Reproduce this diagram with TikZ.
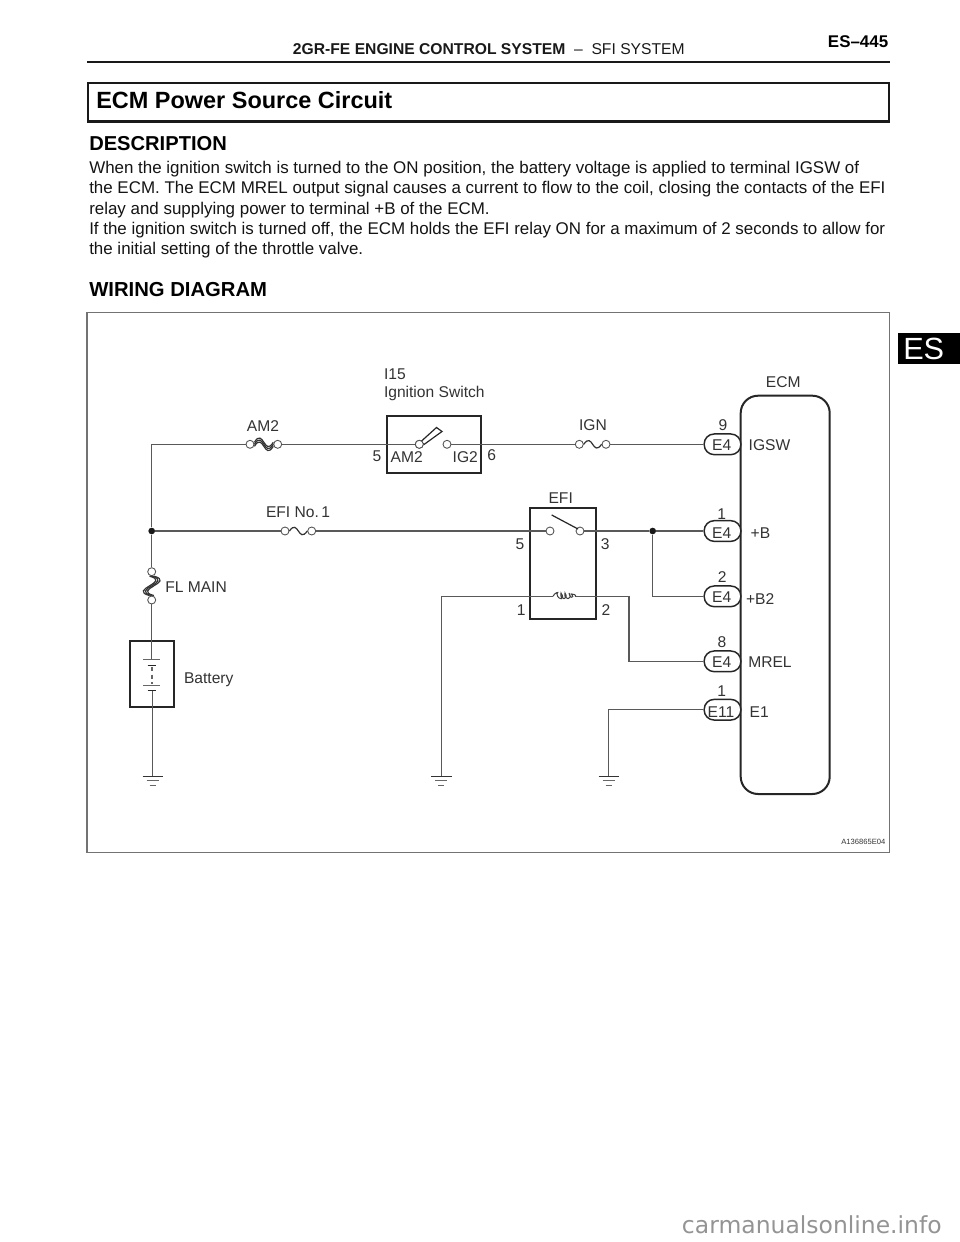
\documentclass[tikz,border=0pt]{standalone}
\usepackage{fontspec}
\setmainfont{Liberation Sans}
\newfontfamily\wmfont{DejaVu Sans}
\tikzset{
  lbl/.style={inner sep=0pt,outer sep=0pt,text=black!80,font=\fontsize{11.7pt}{14pt}\selectfont},
  lw/.style={lbl,anchor=base west},
  lc/.style={lbl,anchor=base},
  lr/.style={lbl,anchor=base east},
  para/.style={inner sep=0pt,anchor=base west,text=black!92,font=\fontsize{12.7pt}{14pt}\selectfont},
  wire/.style={draw=black!65,line width=0.85pt},
  heavy/.style={draw=black!85,line width=1.5pt},
  term/.style={circle,draw=black!68,fill=white,line width=0.65pt,inner sep=0pt,minimum size=6pt},
  dotn/.style={circle,fill=black!90,inner sep=0pt,minimum size=5pt},
  pill/.style={draw=black!85,fill=white,line width=1.1pt,rounded corners=7.5pt,minimum width=27.5pt,minimum height=15.5pt,inner sep=0pt},
  fusewave/.style={draw=black!80,line width=0.9pt},
  gnd/.style={draw=black!80,line width=1.2pt},
  gndthin/.style={draw=black!60,line width=0.7pt},
  gndsym/.pic={
    \draw[gnd] (-10.2,0) -- (10.2,0);
    \draw[gndthin] (-6,4.6) -- (6,4.6);
    \draw[gndthin] (-3,9.2) -- (3,9.2);
  },
}
\begin{document}
\begin{tikzpicture}[x=0.75pt,y=-0.75pt]
\useasboundingbox (0,0) rectangle (960,1242);
\fill[white] (0,0) rectangle (960,1242);

% page header
\draw[black!90,line width=1.6pt] (87,62) -- (889.7,62);
\node[inner sep=0pt,anchor=base west,text=black!90,font=\fontsize{11.75pt}{14pt}\selectfont] (hdr) at (292.7,54.3) {\textbf{2GR-FE ENGINE CONTROL SYSTEM}\ \ --\ \ SFI SYSTEM};
\node[inner sep=0pt,anchor=base east,text=black,font=\bfseries\fontsize{12.7pt}{14pt}\selectfont] (pg) at (888.5,47.3) {ES--445};
\draw[black!90,line width=1.9pt] (88,83) rectangle (889,121.7);
\node[inner sep=0pt,anchor=base west,text=black,font=\bfseries\fontsize{17.6pt}{20pt}\selectfont] (title) at (96,108.3) {ECM Power Source Circuit};
\node[inner sep=0pt,anchor=base west,text=black,font=\bfseries\fontsize{15.1pt}{18pt}\selectfont] (desc) at (89,150) {DESCRIPTION};
\node[para] (p1) at (89,173) {When the ignition switch is turned to the ON position, the battery voltage is applied to terminal IGSW of};
\node[para] (p2) at (89,193.6) {the ECM. The ECM MREL output signal causes a current to flow to the coil, closing the contacts of the EFI};
\node[para] (p3) at (89,214) {relay and supplying power to terminal +B of the ECM.};
\node[para] (p4) at (89,234.3) {If the ignition switch is turned off, the ECM holds the EFI relay ON for a maximum of 2 seconds to allow for};
\node[para] (p5) at (89,254.7) {the initial setting of the throttle valve.};
\node[inner sep=0pt,anchor=base west,text=black,font=\bfseries\fontsize{15.2pt}{18pt}\selectfont] (wd) at (89,296.7) {WIRING DIAGRAM};

% side tab
\fill[black] (897.7,333.3) rectangle (960,364);
\node[inner sep=0pt,anchor=base west,text=white,font=\fontsize{23pt}{26pt}\selectfont] (tab) at (903,359.3) {ES};

% diagram frame
\draw[black!55,line width=0.9pt] (87,312.5) rectangle (889.8,852.7);

% ECM
\draw[heavy,rounded corners=13pt] (740.7,395.7) rectangle (829.7,794);

% fuse and switch terminals
\node[term] (am2a) at (250,444.3) {};
\node[term] (am2b) at (277.7,444.3) {};
\node[term] (efa) at (285,531) {};
\node[term] (efb) at (311.7,531) {};
\node[term] (igna) at (579.3,444.3) {};
\node[term] (ignb) at (606,444.3) {};
\node[term] (fla) at (151.7,571.7) {};
\node[term] (flb) at (151.7,600) {};

% boxes
\node[draw=black!85,line width=1.5pt,minimum width=70.7pt,minimum height=42.7pt,inner sep=0pt] (ign) at (433.85,444.2) {};
\node[draw=black!85,line width=1.5pt,minimum width=49.3pt,minimum height=83.5pt,inner sep=0pt] (efi) at (563.15,563.65) {};
\node[draw=black!85,line width=1.5pt,minimum width=33.4pt,minimum height=49.3pt,inner sep=0pt] (bat) at (152,673.85) {};

% pills
\node[pill] (p9) at (722.5,444.3) {};
\node[pill] (pb) at (722.5,531) {};
\node[pill] (pb2) at (722.5,596.3) {};
\node[pill] (pm) at (722.5,661.3) {};
\node[pill] (pe) at (722.5,709.7) {};

% terminals in boxes
\node[term] (swa) at (419.3,444.3) {};
\node[term] (swb) at (447,444.3) {};
\node[term] (rla) at (550,531) {};
\node[term] (rlb) at (580,531) {};
\node[dotn] (j1) at (151.7,531) {};
\node[dotn] (j2) at (652.7,531) {};
\coordinate (tl) at (151.7,444.3);
\coordinate (cla) at (553,596.3);
\coordinate (clb) at (575,596.3);
\coordinate (g1) at (152.7,776.3);
\coordinate (g2) at (441.3,776.3);
\coordinate (g3) at (608.7,776.3);
\coordinate (batt) at (151.7,659.7);
\coordinate (batb) at (152.7,690.3);

% wires
\draw[wire] (am2a) -- (tl) -- (j1) -- (fla);
\draw[wire] (flb) -- (batt);
\draw[wire] (batb) -- (g1);
\draw[wire] (am2b) -- (swa);
\draw[wire] (swb) -- (igna);
\draw[wire] (ignb) -- (p9.west);
\draw[wire] (j1) -- (efa);
\draw[wire] (efb) -- (rla);
\draw[wire] (rlb) -- (j2) -- (pb.west);
\draw[wire] (j2) |- (pb2.west);
\draw[wire] (g2) |- (cla);
\draw[wire] (clb) -- (629,596.3) |- (pm.west);
\draw[wire] (g3) |- (pe.west);

% fuses
\draw[fusewave] (am2a.east) .. controls +(9,-15) and +(-9,15) .. (am2b.west);
\draw[fusewave] ([yshift=1.5pt]am2a.east) .. controls +(9,-15) and +(-9,15) .. ([yshift=1.5pt]am2b.west);
\draw[fusewave] ([yshift=-1.5pt]am2a.east) .. controls +(9,-15) and +(-9,15) .. ([yshift=-1.5pt]am2b.west);
\draw[fusewave] (efa.east) .. controls +(9,-13) and +(-9,13) .. (efb.west);
\draw[fusewave] (igna.east) .. controls +(9,-13) and +(-9,13) .. (ignb.west);
\draw[fusewave] (fla.south) .. controls +(22,6) and +(-22,-6) .. (flb.north);
\draw[fusewave] ([xshift=-1.6pt]fla.south) .. controls +(22,6) and +(-22,-6) .. ([xshift=-1.6pt]flb.north);
\draw[fusewave] ([xshift=1.6pt]fla.south) .. controls +(22,6) and +(-22,-6) .. ([xshift=1.6pt]flb.north);

% switch arms
\fill[white,draw=black!85,line width=0.9pt] (421,441.5) -- (436.5,427.5) -- (442,431.5) -- (424,444.5) -- cycle;
\node[term] at (swa) {};
\draw[black!85,line width=0.9pt] (551.7,515) -- (578,529);

% relay coil
\draw[black!75,line width=0.75pt] (cla) .. controls +(1,-3) and +(3,-3.5) .. (557,594)
  .. controls +(1,7) and +(5,7) .. (561,593) .. controls +(-2,8) and +(5,7) .. (565,593)
  .. controls +(-2,8) and +(5,7) .. (569,593) .. controls +(0,6) and +(4,4) .. (571.5,594) .. controls +(1.5,-0.5) and +(2,-1) .. (clb);

% battery symbol
\draw[black!60,line width=0.7pt] (143,659.7) -- (160,659.7);
\draw[black!85,line width=1.2pt] (147.5,665.5) -- (156,665.5);
\draw[black!60,line width=0.8pt,dash pattern=on 3.2pt off 2.5pt] (152,667) -- (152,684);
\draw[black!60,line width=0.7pt] (143,685) -- (160,685);
\draw[black!85,line width=1.2pt] (147.5,690.3) -- (156,690.3);

% grounds
\pic at (g1) {gndsym};
\pic at (g2) {gndsym};
\pic at (g3) {gndsym};

% labels
\node[lw] (l15) at (384,379) {I15};
\node[lw] (lign) at (384,397.7) {Ignition Switch};
\node[lc] (lam2) at (263,431) {AM2};
\node[lc] (l5a) at (377,461.7) {5};
\node[lw] (lam2i) at (390.7,462) {AM2};
\node[lw] (lig2) at (452.7,462) {IG2};
\node[lc] (l6) at (491.7,460.7) {6};
\node[lw] (lefi1) at (266,517.3) {EFI No.\,1};
\node[lw] (lfl) at (165.3,592.3) {FL MAIN};
\node[lw] (lbat) at (184,683.3) {Battery};
\node[lc] (lecm) at (783.3,387.7) {ECM};
\node[lc] (lignf) at (593,430.7) {IGN};
\node[lc] (lefi) at (560.7,503.3) {EFI};
\node[lc] (r5) at (520,549) {5};
\node[lc] (r3) at (605.3,549) {3};
\node[lc] (r1) at (521.3,615) {1};
\node[lc] (r2) at (606,615) {2};
\node[lc] (n9) at (723,430.3) {9};
\node[lc] (e9) at (721.7,450.7) {E4};
\node[lw] (s9) at (748.7,450) {IGSW};
\node[lc] (n1) at (721.7,519.3) {1};
\node[lc] (e1) at (721.7,538) {E4};
\node[lw] (s1) at (750.7,538.3) {+B};
\node[lc] (n2) at (722.3,582.7) {2};
\node[lc] (e2) at (721.7,602.3) {E4};
\node[lw] (s2) at (746,604.3) {+B2};
\node[lc] (n8) at (722,647.7) {8};
\node[lc] (e8) at (721.7,667.3) {E4};
\node[lw] (s8) at (748.3,667.3) {MREL};
\node[lc] (n11) at (721.7,696.7) {1};
\node[lc] (e11) at (721,717.3) {E11};
\node[lw] (s11) at (749.7,717) {E1};
\node[lbl,anchor=base east,font=\fontsize{5.7pt}{7pt}\selectfont] (code) at (885.3,844) {A136865E04};

% watermark
\node[inner sep=0pt,anchor=base west,text=black!42,font=\wmfont\fontsize{17.6pt}{20pt}\selectfont] (wm) at (681.7,1233.3) {carmanualsonline.info};
\end{tikzpicture}
\end{document}
